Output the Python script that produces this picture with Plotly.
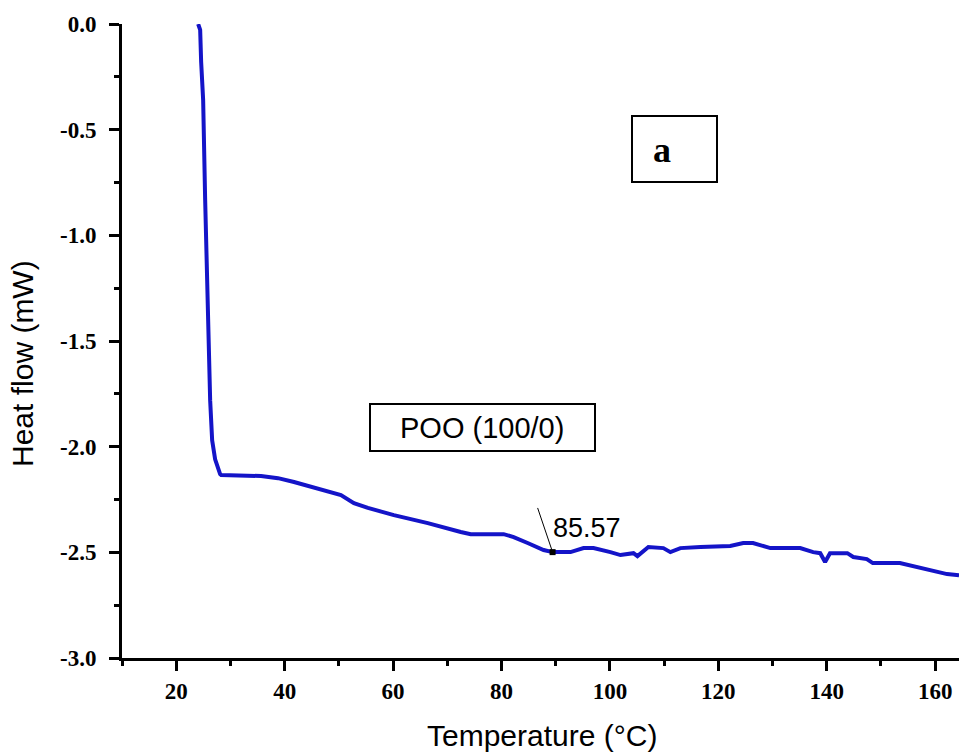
import plotly.graph_objects as go

# Data (Temperature °C, Heat flow mW)
temperature = [24.05, 24.42, 24.6, 24.97, 25.34, 25.71, 26.26, 26.63, 27.18, 28.1,
               28.29, 35.65, 38.78, 41.73, 44.86, 50.39, 52.78, 55.36, 60.15, 66.41,
               72.49, 74.33, 80.41, 82.25, 84.83, 87.77, 89.43, 92.74, 95.14, 96.98,
               100.1, 101.95, 104.35, 105.08, 107.1, 109.87, 111.16, 113.0, 116.7, 122.2,
               124.6, 126.4, 129.6, 135.1, 137.5, 138.8, 139.7, 140.6, 143.8, 144.9,
               147.4, 148.5, 153.5, 156.6, 159.6, 162.2, 164.4]
heat_flow = [0.0, -0.028, -0.18, -0.36, -0.833, -1.306, -1.78, -1.97, -2.06, -2.13,
             -2.134, -2.139, -2.149, -2.167, -2.191, -2.229, -2.267, -2.29, -2.324, -2.362,
             -2.404, -2.414, -2.414, -2.428, -2.456, -2.489, -2.499, -2.499, -2.48, -2.48,
             -2.499, -2.513, -2.504, -2.518, -2.475, -2.48, -2.499, -2.48, -2.475, -2.47,
             -2.456, -2.456, -2.48, -2.48, -2.499, -2.504, -2.546, -2.504, -2.504, -2.522,
             -2.532, -2.551, -2.551, -2.57, -2.584, -2.603, -2.608]

peak_label = "85.57"
peak_point = [89.43, -2.499]
peak_line_start = [86.67, -2.29]

x_ticks = [20, 40, 60, 80, 100, 120, 140, 160]
y_ticks = [0.0, -0.5, -1.0, -1.5, -2.0, -2.5, -3.0]

W, H = 959, 755
L, R, T, B = 122, 0, 24, 97
pw, ph = W - L - R, H - T - B


def px(xp):
    return (xp - L) / pw


def py(yp):
    return (H - yp - B) / ph


fig = go.Figure()
fig.add_trace(go.Scatter(x=temperature, y=heat_flow, mode="lines",
                         line=dict(color="rgb(20,20,200)", width=4),
                         showlegend=False, hoverinfo="skip"))
fig.add_trace(go.Scatter(x=[peak_line_start[0], peak_point[0]],
                         y=[peak_line_start[1], peak_point[1]],
                         mode="lines", line=dict(color="black", width=1),
                         showlegend=False, hoverinfo="skip"))
fig.add_trace(go.Scatter(x=[peak_point[0]], y=[peak_point[1]], mode="markers",
                         marker=dict(color="black", size=6, symbol="square"),
                         showlegend=False, hoverinfo="skip"))

tickfont = dict(family="Liberation Serif", size=23, color="black", weight="bold")
fig.update_xaxes(range=[10, 164.4], tickvals=x_ticks,
                 ticktext=[str(v) for v in x_ticks],
                 showline=True, linecolor="black", linewidth=3,
                 ticks="outside", ticklen=10, tickwidth=3, tickcolor="black",
                 minor=dict(ticks="outside", ticklen=5, tickwidth=3, tickcolor="black", dtick=10, tick0=0),
                 showgrid=False, zeroline=False, tickfont=tickfont)
fig.update_yaxes(range=[-3.0, 0.0], tickvals=y_ticks,
                 ticktext=["%.1f" % v for v in y_ticks],
                 showline=True, linecolor="black", linewidth=3,
                 ticks="outside", ticklen=10, tickwidth=3, tickcolor="black",
                 minor=dict(ticks="outside", ticklen=5, tickwidth=3, tickcolor="black", dtick=0.25, tick0=0),
                 showgrid=False, zeroline=False, tickfont=tickfont,
                 ticklabelstandoff=8)

sans = "Liberation Sans"
fig.add_annotation(text=peak_label, x=peak_point[0], y=-2.385, xref="x", yref="y",
                   xanchor="left", yanchor="middle", showarrow=False, xshift=-2,
                   font=dict(family=sans, size=27, color="black"))
fig.add_annotation(text="POO (100/0)", x=px(482), y=py(428), xref="paper", yref="paper",
                   xanchor="center", yanchor="middle",
                   showarrow=False, font=dict(family=sans, size=29, color="black"))
fig.add_annotation(text="a", x=px(662), y=py(150), xref="paper", yref="paper",
                   xanchor="center", yanchor="middle",
                   showarrow=False, font=dict(family="Liberation Serif", size=36, color="black", weight="bold"))
fig.add_annotation(text="Heat flow (mW)", x=px(22), y=py(364), xref="paper", yref="paper",
                   xanchor="center", yanchor="middle", textangle=-90,
                   showarrow=False, font=dict(family=sans, size=30, color="black"))
fig.add_annotation(text="Temperature (°C)", x=px(542), y=py(735), xref="paper", yref="paper",
                   xanchor="center", yanchor="middle",
                   showarrow=False, font=dict(family=sans, size=30, color="black"))

fig.add_shape(type="rect", xref="paper", yref="paper",
              x0=px(370), x1=px(595), y0=py(451), y1=py(404),
              line=dict(color="black", width=2))
fig.add_shape(type="rect", xref="paper", yref="paper",
              x0=px(632), x1=px(717), y0=py(182), y1=py(116),
              line=dict(color="black", width=2))

fig.update_layout(width=W, height=H, margin=dict(l=L, r=R, t=T, b=B),
                  paper_bgcolor="white", plot_bgcolor="white")

fig.write_html("out.html")
